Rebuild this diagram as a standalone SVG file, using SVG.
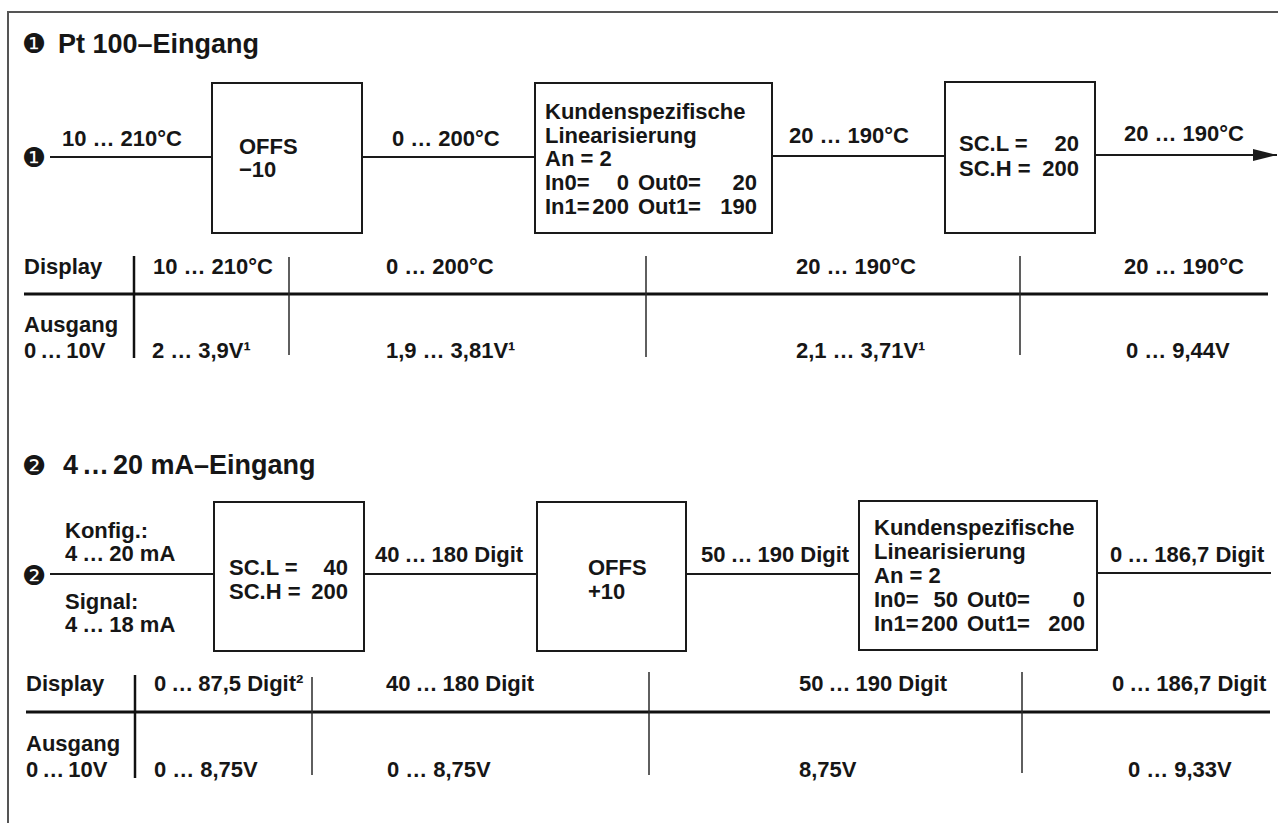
<svg xmlns="http://www.w3.org/2000/svg" width="1278" height="823" viewBox="0 0 1278 823">
<style>
.t{font-family:"Liberation Sans",Arial,Helvetica,sans-serif;font-weight:bold;font-size:22px;fill:#161616}
.ti{font-size:27px}
.c{font-family:"DejaVu Sans",sans-serif;font-size:27px;fill:#161616;text-anchor:middle}
.e{text-anchor:end}
.box{fill:none;stroke:#1a1a1a;stroke-width:2}
.w{stroke:#1a1a1a;stroke-width:2;fill:none}
.rule{stroke:#111;stroke-width:3}
.vk{stroke:#111;stroke-width:2.5}
.vn{stroke:#2a2a2a;stroke-width:1.5}
.frame{stroke:#555;stroke-width:2;fill:none}
</style>
<defs>
<marker id="arr" markerUnits="userSpaceOnUse" markerWidth="24" markerHeight="12" refX="24" refY="6" orient="auto">
<path d="M0,0 L24,6 L0,12 z" fill="#1a1a1a"/>
</marker>
</defs>
<rect width="1278" height="823" fill="#ffffff"/>
<path class="frame" d="M8,823 V12 H1278"/>

<g id="title1">
<text class="c" x="34" y="53">❶</text>
<text class="t ti" x="58" y="53">Pt 100–Eingang</text>
</g>

<g id="input1">
<text class="c" x="34" y="167">❶</text>
</g>

<g id="box-offs1">
<rect class="box" x="212" y="83" width="150" height="150"/>
<text class="t" x="239" y="154">OFFS</text>
<text class="t" x="239" y="177">−10</text>
</g>

<g id="box-lin1">
<rect class="box" x="535" y="83" width="237" height="150"/>
<text class="t" x="545" y="119">Kundenspezifische</text>
<text class="t" x="545" y="143">Linearisierung</text>
<text class="t" x="545" y="166">An = 2</text>
<text class="t" x="545" y="190">In0=</text>
<text class="t e" x="629" y="190">0</text>
<text class="t" x="638" y="190">Out0=</text>
<text class="t e" x="757" y="190">20</text>
<text class="t" x="545" y="214">In1=</text>
<text class="t e" x="629" y="214">200</text>
<text class="t" x="638" y="214">Out1=</text>
<text class="t e" x="757" y="214">190</text>
</g>

<g id="box-scale1">
<rect class="box" x="945" y="82" width="150" height="151"/>
<text class="t" x="959" y="151">SC.L =</text>
<text class="t e" x="1079" y="151">20</text>
<text class="t" x="959" y="176">SC.H =</text>
<text class="t e" x="1079" y="176">200</text>
</g>

<g id="connectors">
<line class="w" x1="50" y1="157" x2="212" y2="157"/>
<line class="w" x1="362" y1="157" x2="535" y2="157"/>
<line class="w" x1="772" y1="156" x2="945" y2="156"/>
<line class="w" x1="1095" y1="155" x2="1277" y2="155" marker-end="url(#arr)"/>
<line class="w" x1="50" y1="574" x2="214" y2="574"/>
<line class="w" x1="364" y1="574" x2="537" y2="574"/>
<line class="w" x1="686" y1="574" x2="859" y2="574"/>
<line class="w" x1="1097" y1="573" x2="1271" y2="573"/>
<text class="t" x="62" y="146">10<tspan dx="6">…</tspan><tspan dx="6">210°C</tspan></text>
<text class="t" x="392" y="146">0<tspan dx="6">…</tspan><tspan dx="6">200°C</tspan></text>
<text class="t" x="789" y="143">20<tspan dx="6">…</tspan><tspan dx="6">190°C</tspan></text>
<text class="t" x="1124" y="141">20<tspan dx="6">…</tspan><tspan dx="6">190°C</tspan></text>
<text class="t" x="375" y="562">40<tspan dx="5">…</tspan><tspan dx="5">180 Digit</tspan></text>
<text class="t" x="701" y="562">50<tspan dx="5">…</tspan><tspan dx="5">190 Digit</tspan></text>
<text class="t" x="1110" y="562">0<tspan dx="5">…</tspan><tspan dx="5">186,7 Digit</tspan></text>
</g>

<g id="table1">
<line class="rule" x1="24" y1="294" x2="1268" y2="294"/>
<line class="vk" x1="134" y1="256" x2="134" y2="358"/>
<line class="vn" x1="289" y1="257" x2="289" y2="355"/>
<line class="vn" x1="646" y1="256" x2="646" y2="357"/>
<line class="vn" x1="1020" y1="256" x2="1020" y2="355"/>
<text class="t" x="24" y="274">Display</text>
<text class="t" x="153" y="274">10<tspan dx="6">…</tspan><tspan dx="6">210°C</tspan></text>
<text class="t" x="386" y="274">0<tspan dx="6">…</tspan><tspan dx="6">200°C</tspan></text>
<text class="t" x="796" y="274">20<tspan dx="6">…</tspan><tspan dx="6">190°C</tspan></text>
<text class="t" x="1124" y="274">20<tspan dx="6">…</tspan><tspan dx="6">190°C</tspan></text>
<text class="t" x="24" y="332">Ausgang</text>
<text class="t" x="24" y="358">0<tspan dx="4">…</tspan><tspan dx="4">10V</tspan></text>
<text class="t" x="152" y="358">2<tspan dx="6">…</tspan><tspan dx="6">3,9V¹</tspan></text>
<text class="t" x="386" y="358">1,9<tspan dx="6">…</tspan><tspan dx="6">3,81V¹</tspan></text>
<text class="t" x="796" y="358">2,1<tspan dx="6">…</tspan><tspan dx="6">3,71V¹</tspan></text>
<text class="t" x="1126" y="358">0<tspan dx="6">…</tspan><tspan dx="6">9,44V</tspan></text>
</g>

<g id="title2">
<text class="c" x="34" y="475">❷</text>
<text class="t ti" x="63" y="474">4<tspan dx="4">…</tspan><tspan dx="4">20 mA–Eingang</tspan></text>
</g>

<g id="input2">
<text class="c" x="34" y="585">❷</text>
<text class="t" x="65" y="538">Konfig.:</text>
<text class="t" x="65" y="561">4<tspan dx="5">…</tspan><tspan dx="5">20 mA</tspan></text>
<text class="t" x="65" y="609">Signal:</text>
<text class="t" x="65" y="632">4<tspan dx="5">…</tspan><tspan dx="5">18 mA</tspan></text>
</g>

<g id="box-scale2">
<rect class="box" x="214" y="502" width="150" height="149"/>
<text class="t" x="229" y="575">SC.L =</text>
<text class="t e" x="348" y="575">40</text>
<text class="t" x="229" y="599">SC.H =</text>
<text class="t e" x="348" y="599">200</text>
</g>

<g id="box-offs2">
<rect class="box" x="537" y="502" width="149" height="149"/>
<text class="t" x="588" y="575">OFFS</text>
<text class="t" x="588" y="599">+10</text>
</g>

<g id="box-lin2">
<rect class="box" x="859" y="501" width="238" height="149"/>
<text class="t" x="874" y="535">Kundenspezifische</text>
<text class="t" x="874" y="559">Linearisierung</text>
<text class="t" x="874" y="583">An = 2</text>
<text class="t" x="874" y="607">In0=</text>
<text class="t e" x="958" y="607">50</text>
<text class="t" x="967" y="607">Out0=</text>
<text class="t e" x="1085" y="607">0</text>
<text class="t" x="874" y="631">In1=</text>
<text class="t e" x="958" y="631">200</text>
<text class="t" x="967" y="631">Out1=</text>
<text class="t e" x="1085" y="631">200</text>
</g>

<g id="table2">
<line class="rule" x1="26" y1="712" x2="1270" y2="712"/>
<line class="vk" x1="135" y1="675" x2="135" y2="778"/>
<line class="vn" x1="312" y1="677" x2="312" y2="775"/>
<line class="vn" x1="649" y1="672" x2="649" y2="775"/>
<line class="vn" x1="1022" y1="672" x2="1022" y2="773"/>
<text class="t" x="26" y="691">Display</text>
<text class="t" x="154" y="691">0<tspan dx="5">…</tspan><tspan dx="5">87,5 Digit²</tspan></text>
<text class="t" x="386" y="691">40<tspan dx="5">…</tspan><tspan dx="5">180 Digit</tspan></text>
<text class="t" x="799" y="691">50<tspan dx="5">…</tspan><tspan dx="5">190 Digit</tspan></text>
<text class="t" x="1112" y="691">0<tspan dx="5">…</tspan><tspan dx="5">186,7 Digit</tspan></text>
<text class="t" x="26" y="751">Ausgang</text>
<text class="t" x="26" y="777">0<tspan dx="4">…</tspan><tspan dx="4">10V</tspan></text>
<text class="t" x="154" y="777">0<tspan dx="6">…</tspan><tspan dx="6">8,75V</tspan></text>
<text class="t" x="387" y="777">0<tspan dx="6">…</tspan><tspan dx="6">8,75V</tspan></text>
<text class="t" x="799" y="777">8,75V</text>
<text class="t" x="1128" y="777">0<tspan dx="6">…</tspan><tspan dx="6">9,33V</tspan></text>
</g>
</svg>
